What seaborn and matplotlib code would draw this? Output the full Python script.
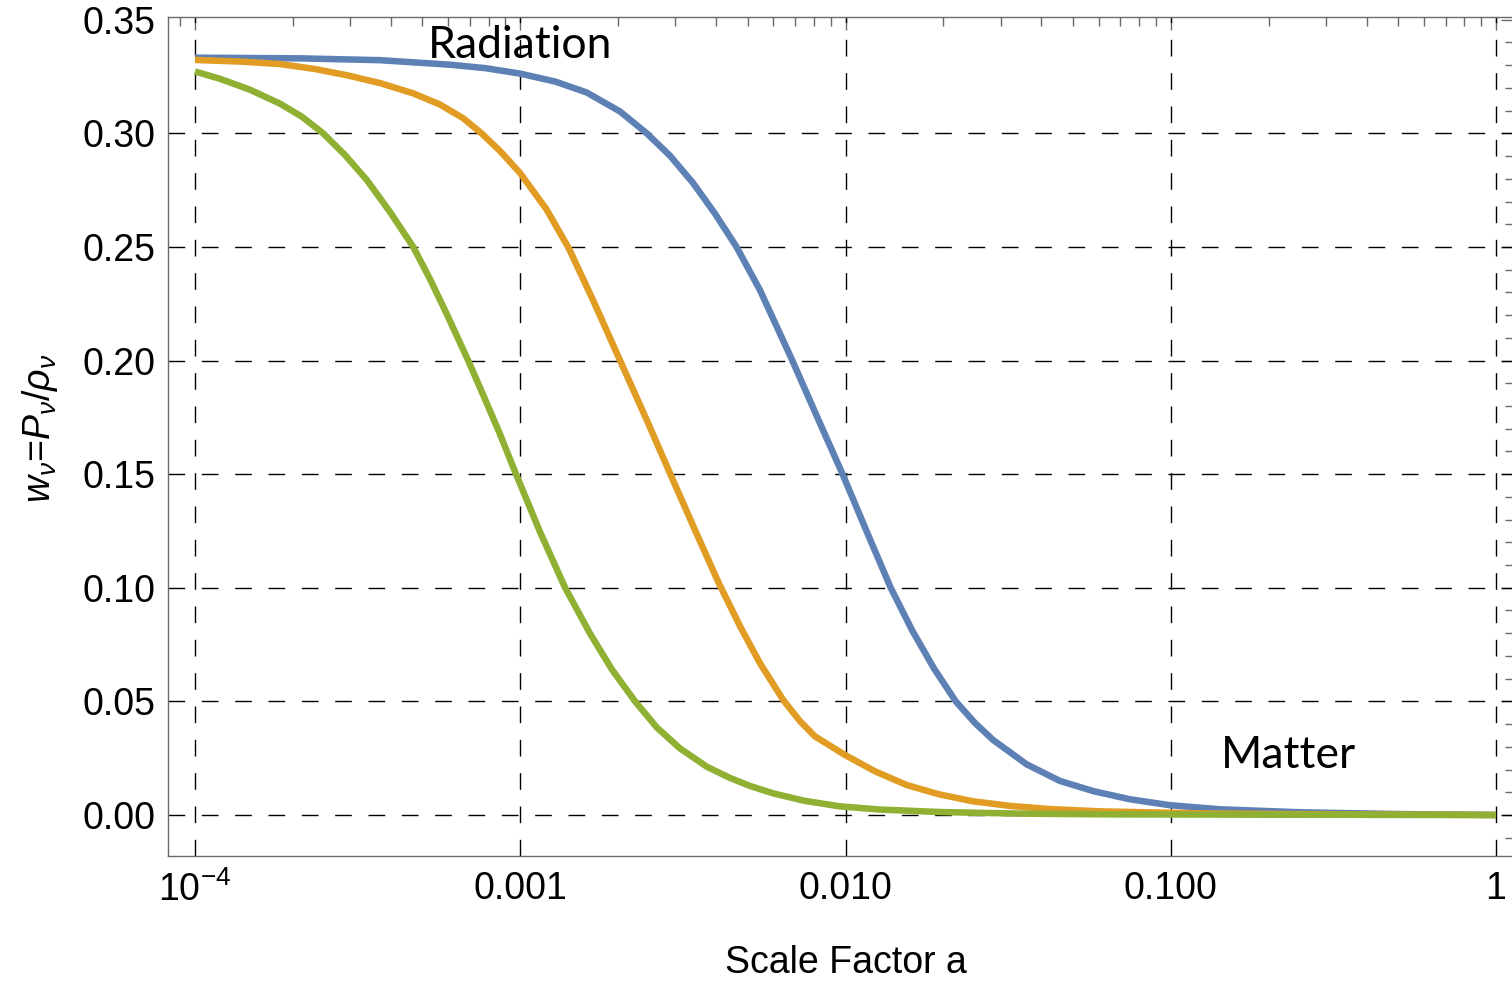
import numpy as np
import pandas as pd
import matplotlib
matplotlib.use("Agg")
import matplotlib.pyplot as plt
from matplotlib.ticker import FixedLocator, LogLocator, MultipleLocator, NullFormatter
import seaborn as sns

# Equation-of-state parameter w = P/rho for three neutrino species vs scale factor.
# Abscissae are stored as log10(a).
loga_blue = [-4.000, -3.677, -3.431, -3.216, -3.108, -3.001, -2.893, -2.796, -2.693,
             -2.611, -2.540, -2.469, -2.401, -2.335, -2.263, -2.165, -2.085, -2.009,
             -1.937, -1.861, -1.796, -1.728, -1.661, -1.602, -1.546, -1.443, -1.341,
             -1.238, -1.125, -1.002, -0.849, -0.603, -0.295, 0.000]
w_blue = [0.3333, 0.3330, 0.3322, 0.3302, 0.3287, 0.3263, 0.3228, 0.3180, 0.3096,
          0.3000, 0.2902, 0.2782, 0.2646, 0.2500, 0.2310, 0.2005, 0.1745, 0.1500,
          0.1255, 0.1000, 0.0815, 0.0645, 0.0500, 0.0405, 0.0330, 0.0223, 0.0150,
          0.0105, 0.0069, 0.0043, 0.0025, 0.0012, 0.0004, 0.0]

loga_orange = [-4.000, -3.862, -3.739, -3.631, -3.534, -3.431, -3.329, -3.247, -3.175,
               -3.119, -3.062, -3.001, -2.919, -2.850, -2.775, -2.693, -2.611, -2.540,
               -2.463, -2.391, -2.324, -2.263, -2.191, -2.140, -2.094, -1.999, -1.909,
               -1.812, -1.710, -1.607, -1.494, -1.371, -1.218, -0.910, -0.449, 0.000]
w_orange = [0.3323, 0.3316, 0.3305, 0.3283, 0.3256, 0.3221, 0.3176, 0.3127, 0.3066,
            0.3000, 0.2922, 0.2826, 0.2665, 0.2492, 0.2262, 0.2000, 0.1738, 0.1505,
            0.1255, 0.1025, 0.0830, 0.0668, 0.0505, 0.0413, 0.0346, 0.0262, 0.0192,
            0.0132, 0.0090, 0.0060, 0.0040, 0.0026, 0.0016, 0.0007, 0.0002, 0.0]

loga_green = [-4.000, -3.923, -3.831, -3.739, -3.671, -3.606, -3.539, -3.472, -3.401,
              -3.329, -3.278, -3.226, -3.160, -3.112, -3.062, -3.013, -2.939, -2.862,
              -2.786, -2.718, -2.647, -2.580, -2.509, -2.427, -2.355, -2.294, -2.222,
              -2.125, -2.017, -1.894, -1.710, -1.464, -1.218, -0.603, 0.000]
w_green = [0.3272, 0.3240, 0.3192, 0.3131, 0.3073, 0.3000, 0.2905, 0.2795, 0.2655,
           0.2500, 0.2360, 0.2205, 0.2000, 0.1842, 0.1675, 0.1500, 0.1245, 0.1000,
           0.0800, 0.0640, 0.0500, 0.0385, 0.0293, 0.0213, 0.0163, 0.0128, 0.0095,
           0.0062, 0.0038, 0.0024, 0.0013, 0.0006, 0.0003, 0.0001, 0.0]

series_names = ["blue", "orange", "green"]
series_colors = {"blue": "#5E81B5", "orange": "#E19C24", "green": "#8FB032"}

x_ticks = [1e-4, 1e-3, 1e-2, 1e-1, 1.0]
x_ticklabels = [r"$\mathregular{10^{-4}}$", "0.001", "0.010", "0.100", "1"]
y_ticks = [0.00, 0.05, 0.10, 0.15, 0.20, 0.25, 0.30, 0.35]
y_ticklabels = ["0.00", "0.05", "0.10", "0.15", "0.20", "0.25", "0.30", "0.35"]
grid_y = [0.00, 0.05, 0.10, 0.15, 0.20, 0.25, 0.30]
grid_x = [1e-4, 1e-3, 1e-2, 1e-1, 1.0]

df = pd.concat([
    pd.DataFrame({"a": 10.0 ** np.array(loga_blue), "w": w_blue, "series": "blue"}),
    pd.DataFrame({"a": 10.0 ** np.array(loga_orange), "w": w_orange, "series": "orange"}),
    pd.DataFrame({"a": 10.0 ** np.array(loga_green), "w": w_green, "series": "green"}),
], ignore_index=True)

sns.set_style("white")
plt.rcParams["font.family"] = ["Liberation Sans", "DejaVu Sans"]
plt.rcParams["text.color"] = "black"
plt.rcParams["axes.labelcolor"] = "black"
plt.rcParams["mathtext.fontset"] = "custom"
plt.rcParams["mathtext.rm"] = "Liberation Sans"
plt.rcParams["mathtext.it"] = "Liberation Sans:italic"
plt.rcParams["mathtext.bf"] = "Liberation Sans:bold"

W, H = 1512, 982
fig = plt.figure(figsize=(W / 100, H / 100), dpi=100)
ax = fig.add_axes([168 / W, 1 - 856 / H, (1514 - 168) / W, (856 - 17) / H])

for v in grid_y:
    ax.axhline(v, color="black", lw=1.0, ls=(0, (12, 12)), zorder=1)
for v in grid_x:
    ax.axvline(v, color="black", lw=1.0, ls=(0, (12, 12)), zorder=1)

sns.lineplot(data=df, x="a", y="w", hue="series", hue_order=series_names,
             palette=series_colors, linewidth=4.7, estimator=None, sort=True,
             legend=False, ax=ax, zorder=3)
for ln in ax.get_lines():
    ln.set_solid_capstyle("butt")
    ln.set_solid_joinstyle("round")

ax.set_xscale("log")
ax.set_xlim(10 ** -4.083, 10 ** 0.0553)
ax.set_ylim(-0.01805, 0.3512)

ax.xaxis.set_major_locator(FixedLocator(x_ticks))
ax.set_xticklabels(x_ticklabels)
ax.xaxis.set_minor_locator(LogLocator(base=10, subs=np.arange(2, 10)))
ax.xaxis.set_minor_formatter(NullFormatter())
ax.yaxis.set_major_locator(FixedLocator(y_ticks))
ax.set_yticklabels(y_ticklabels)
ax.yaxis.set_minor_locator(MultipleLocator(0.01))

spine_color = "#6a6a6a"
for sp in ax.spines.values():
    sp.set_color(spine_color)
    sp.set_linewidth(1.0)
    sp.set_visible(True)

ax.tick_params(which="both", direction="in", top=True, right=True,
               color=spine_color, width=1.0, labelcolor="black", labelsize=27)
ax.tick_params(which="major", length=9.5)
ax.tick_params(which="minor", length=6.5)
ax.tick_params(axis="y", which="major", pad=9)
ax.tick_params(axis="x", which="major", pad=11)

ax.set_xlabel("Scale Factor a", fontsize=27)
ax.xaxis.set_label_coords((846 - 168) / 1346, -(963 - 856) / 839)
ax.xaxis.label.set_va("center")
ax.set_ylabel(r"$w_\nu$=$P_\nu/\rho_\nu$", fontsize=27)
ax.yaxis.set_label_coords((40 - 168) / 1346, (856 - 428) / 839)
ax.yaxis.label.set_va("center")

ax.text(1e-3, 1 / 3, "Radiation", family="Lato", fontsize=32,
        ha="center", va="baseline", zorder=4)
ax.text(0.2298, 0.0205, "Matter", family="Lato", fontsize=32,
        ha="center", va="baseline", zorder=4)

fig.savefig("out.png", dpi=100)
